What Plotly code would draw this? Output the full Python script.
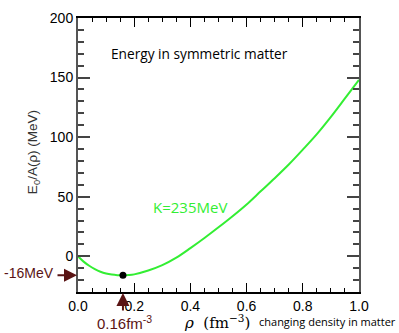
import plotly.graph_objects as go

# density (fm^-3) and energy per nucleon (MeV)
rho = [0.00, 0.02, 0.04, 0.06, 0.08, 0.10, 0.12, 0.14, 0.16, 0.18, 0.20,
       0.25, 0.30, 0.35, 0.40, 0.45, 0.50, 0.55, 0.60, 0.65, 0.70, 0.75,
       0.80, 0.85, 0.90, 0.95, 1.00]
energy = [0.0, -4.5, -8.0, -10.8, -13.0, -14.5, -15.4, -15.9, -16.0, -15.8, -15.2,
          -12.0, -7.5, -1.2, 6.8, 15.3, 24.3, 33.6, 43.5, 54.5, 65.5, 77.0,
          89.5, 102.5, 117.0, 132.5, 148.0]
sat_rho = [0.16]
sat_energy = [-16.0]

x_ticks = [0.0, 0.2, 0.4, 0.6, 0.8, 1.0]
x_ticktext = ["0.0", "0.2", "0.4", "0.6", "0.8", "1.0"]
y_ticks = [0, 50, 100, 150, 200]

DARKRED = "#5a1414"
GREEN = "#33ee33"

fig = go.Figure()
fig.add_trace(go.Scatter(x=rho, y=energy, mode="lines",
                         line=dict(color=GREEN, width=2), line_shape="spline",
                         hoverinfo="skip", showlegend=False))
fig.add_trace(go.Scatter(x=sat_rho, y=sat_energy, mode="markers",
                         marker=dict(color="black", size=7), showlegend=False))

tickfont = dict(family="Liberation Sans, Arial", size=14, color="black")
fig.update_xaxes(range=[0, 1], tickvals=x_ticks, ticktext=x_ticktext,
                 ticks="inside", ticklen=9, tickwidth=1, tickcolor="black",
                 minor=dict(dtick=0.05, ticks="inside", ticklen=4, tickcolor="black"),
                 showline=True, linecolor="black", linewidth=1.5, mirror="allticks",
                 showgrid=False, zeroline=False, tickfont=tickfont,
                 ticklabeloverflow="allow")
fig.update_yaxes(range=[-30, 200], tickvals=y_ticks,
                 ticks="inside", ticklen=12, tickwidth=1.5, tickcolor="#444",
                 minor=dict(dtick=10, ticks="inside", ticklen=6, tickcolor="#444"),
                 showline=True, linecolor="#555", linewidth=2, mirror="allticks",
                 showgrid=False, zeroline=False, tickfont=tickfont,
                 ticklabeloverflow="allow")

ann = []
ann.append(dict(x=0.434, y=170, xref="x", yref="y", showarrow=False,
                text="Energy in symmetric matter",
                font=dict(family="Open Sans", size=13.7, color="black")))
ann.append(dict(x=0.40, y=41.5, xref="x", yref="y", showarrow=False,
                text="K=235MeV",
                font=dict(family="Open Sans", size=15, color=GREEN)))
# y title
ann.append(dict(x=-0.158, y=0.509, xref="paper", yref="paper", showarrow=False,
                xanchor="center", yanchor="middle",
                textangle=-90, text="E<sub>0</sub>/A(ρ) (MeV)",
                font=dict(family="Liberation Sans, Arial", size=13.5, color="#333")))
# x title
ann.append(dict(x=0.493, y=-0.108, xref="paper", yref="paper", showarrow=False,
                text="<i>ρ</i>  (fm<sup>−3</sup>)", xanchor="center", yanchor="middle",
                font=dict(family="DejaVu Serif", size=15, color="black")))
ann.append(dict(x=1.139, y=-0.108, xref="paper", yref="paper", showarrow=False,
                text="changing density in matter", xanchor="right", yanchor="middle",
                font=dict(family="Open Sans", size=11, color="black")))
# -16MeV arrow and label
ann.append(dict(x=0, y=-16, xref="x", yref="y", ax=-22, ay=0, text="",
                showarrow=True, arrowhead=2, arrowsize=1.3, arrowwidth=2,
                arrowcolor=DARKRED, standoff=1))
ann.append(dict(x=-0.08, y=-14, xref="paper", yref="y", xanchor="right", showarrow=False,
                text="-16MeV",
                font=dict(family="Liberation Sans, Arial", size=14, color=DARKRED)))
# 0.16 arrow and label
ann.append(dict(x=0.16, y=-30, xref="x", yref="y", ax=0, ay=20, text="",
                showarrow=True, arrowhead=2, arrowsize=1.3, arrowwidth=2,
                arrowcolor=DARKRED, standoff=1))
ann.append(dict(x=0.165, y=-0.112, xref="x", yref="paper", xanchor="center", yanchor="middle",
                showarrow=False, text="0.16fm<sup>-3</sup>",
                font=dict(family="Liberation Sans, Arial", size=15, color=DARKRED)))

fig.update_layout(width=399, height=333, margin=dict(l=78, r=40, t=10, b=41),
                  plot_bgcolor="white", paper_bgcolor="white", annotations=ann,
                  showlegend=False)

# remove the default 8px body margin of the page so the figure fills the window
fig.write_html("out.html", config={"displayModeBar": False},
               post_script="document.body.style.margin='0';document.body.style.overflow='hidden';")
